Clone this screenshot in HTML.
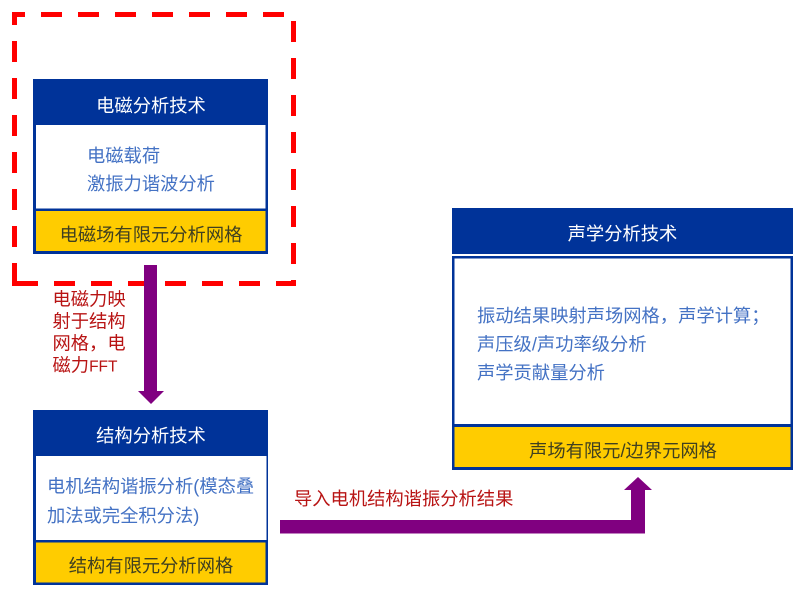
<!DOCTYPE html>
<html>
<head>
<meta charset="utf-8">
<style>
html,body{margin:0;padding:0;background:#fff;width:808px;height:600px;overflow:hidden}
svg{display:block}
text{font-family:"Liberation Sans","Noto Sans CJK SC",sans-serif;font-size:18.3px;filter:blur(.3px)}
.w{fill:#fff;text-anchor:middle}
.b{fill:#4472C4}
.d{fill:#404020;text-anchor:middle}
.r{fill:#B81414}
</style>
</head>
<body>
<svg width="808" height="600" viewBox="0 0 808 600" xmlns="http://www.w3.org/2000/svg">
<rect width="808" height="600" fill="#fff"/>

<!-- Red dashed frame -->
<g fill="#FF0000">
<rect x="12" y="12" width="13" height="5"/>
<rect x="41" y="12" width="21" height="5"/><rect x="78" y="12" width="21" height="5"/><rect x="115" y="12" width="21" height="5"/><rect x="152" y="12" width="21" height="5"/><rect x="189" y="12" width="21" height="5"/><rect x="226" y="12" width="21" height="5"/><rect x="263" y="12" width="21" height="5"/>
<rect x="12" y="12" width="5" height="13"/>
<rect x="12" y="41" width="5" height="21"/><rect x="12" y="78" width="5" height="21"/><rect x="12" y="115" width="5" height="21"/><rect x="12" y="152" width="5" height="21"/><rect x="12" y="189" width="5" height="21"/><rect x="12" y="226" width="5" height="21"/><rect x="12" y="263" width="5" height="23"/>
<rect x="291" y="21" width="5" height="21"/><rect x="291" y="58" width="5" height="21"/><rect x="291" y="95" width="5" height="21"/><rect x="291" y="132" width="5" height="21"/><rect x="291" y="169" width="5" height="21"/><rect x="291" y="206" width="5" height="21"/><rect x="291" y="243" width="5" height="21"/><rect x="291" y="280" width="5" height="6"/>
<rect x="12" y="281" width="26" height="5"/><rect x="54" y="281" width="21" height="5"/><rect x="91" y="281" width="21" height="5"/><rect x="128" y="281" width="21" height="5"/><rect x="165" y="281" width="21" height="5"/><rect x="202" y="281" width="21" height="5"/><rect x="239" y="281" width="21" height="5"/><rect x="276" y="281" width="20" height="5"/>
</g>

<!-- Box 1 -->
<rect x="33" y="79" width="235" height="175" fill="#003399"/>
<rect x="36" y="125" width="229.500" height="83.500" fill="#fff"/>
<rect x="36" y="211" width="229.500" height="40" fill="#FFCC00"/>
<text class="w" x="151" y="112">电磁分析技术</text>
<text class="b" x="87" y="162">电磁载荷</text>
<text class="b" x="87" y="190">激振力谐波分析</text>
<text class="d" x="151" y="241">电磁场有限元分析网格</text>

<!-- Box 2 -->
<rect x="33" y="410" width="235" height="175" fill="#003399"/>
<rect x="36" y="456" width="230.500" height="84" fill="#fff"/>
<rect x="36" y="542.500" width="229.500" height="40" fill="#FFCC00"/>
<text class="w" x="151" y="442">结构分析技术</text>
<text class="b" x="47" y="492.500">电机结构谐振分析(模态叠</text>
<text class="b" x="47" y="522">加法或完全积分法)</text>
<text class="d" x="151" y="572">结构有限元分析网格</text>

<!-- Box 3 -->
<rect x="452" y="208" width="341" height="46" fill="#003399"/>
<rect x="452" y="256" width="341" height="214" fill="#003399"/>
<rect x="454.500" y="258.500" width="336" height="165.500" fill="#fff"/>
<rect x="454.500" y="427" width="336" height="40" fill="#FFCC00"/>
<text class="w" x="622.500" y="240">声学分析技术</text>
<text class="b" x="477" y="322">振动结果映射声场网格，声学计算；</text>
<text class="b" x="477" y="350.500">声压级/声功率级分析</text>
<text class="b" x="477" y="379">声学贡献量分析</text>
<text class="d" x="623" y="457">声场有限元/边界元网格</text>

<!-- Arrows -->
<polygon fill="#800080" points="144,265 157,265 157,391 164,391 151,404 138,391 144,391"/>
<polygon fill="#800080" points="280,520 631,520 631,490 624,490 638,477 652,490 645,490 645,533.500 280,533.500"/>

<!-- Red labels -->
<text class="r" x="52.500" y="305.500">电磁力映</text>
<text class="r" x="52.500" y="327.500">射于结构</text>
<text class="r" x="52.500" y="349.500">网格，电</text>
<text class="r" x="52.500" y="371.500">磁力<tspan style="font-size:15.500px">FFT</tspan></text>
<text class="r" x="294" y="505">导入电机结构谐振分析结果</text>
</svg>
</body>
</html>
